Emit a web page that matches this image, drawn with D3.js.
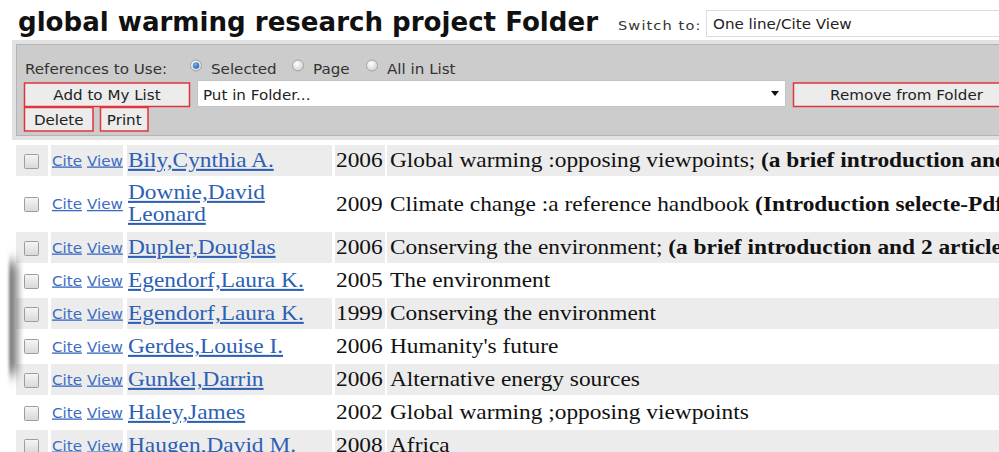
<!DOCTYPE html>
<html>
<head>
<meta charset="utf-8">
<script src="https://cdn.jsdelivr.net/npm/d3@7"></script>
<style>
  html, body { margin: 0; padding: 0; background: #fff; }
  svg { display: block; }
  .sans { font-family: "DejaVu Sans", Verdana, sans-serif; }
  .serif { font-family: "Liberation Serif", "Times New Roman", serif; }
</style>
</head>
<body>
<svg id="page" width="999" height="452"></svg>
<script>
// folder contents
const folderName = 'global warming research project Folder';
const viewChoice = 'One line/Cite View';
const scopeChoices = ['Selected', 'Page', 'All in List'];
const authors = [
  ['Bily,Cynthia A.'],
  ['Downie,David', 'Leonard'],
  ['Dupler,Douglas'],
  ['Egendorf,Laura K.'],
  ['Egendorf,Laura K.'],
  ['Gerdes,Louise I.'],
  ['Gunkel,Darrin'],
  ['Haley,James'],
  ['Haugen,David M.']
];
const years = [2006, 2009, 2006, 2005, 1999, 2006, 2006, 2002, 2008];
const titles = [
  'Global warming :opposing viewpoints;',
  'Climate change :a reference handbook',
  'Conserving the environment;',
  'The environment',
  'Conserving the environment',
  "Humanity's future",
  'Alternative energy sources',
  'Global warming ;opposing viewpoints',
  'Africa'
];
const notes = [
  '(a brief introduction and 2 articles)',
  '(Introduction selecte-Pdf)',
  '(a brief introduction and 2 articles)',
  '', '', '', '', '', ''
];

const SX = 1.12; // text in the shot is a little wider than tall
const SXS = 1.14; // same for the serif rows
const svg = d3.select('#page');
const defs = svg.append('defs');

// gradients for the little form controls
const cb = defs.append('linearGradient').attr('id', 'cbGrad').attr('x1', 0).attr('y1', 0).attr('x2', 0).attr('y2', 1);
cb.append('stop').attr('offset', 0).attr('stop-color', '#f6f6f6');
cb.append('stop').attr('offset', 1).attr('stop-color', '#d8d8d8');
const rg = defs.append('radialGradient').attr('id', 'radioGrad').attr('cx', 0.4).attr('cy', 0.35).attr('r', 0.7);
rg.append('stop').attr('offset', 0).attr('stop-color', '#ffffff');
rg.append('stop').attr('offset', 1).attr('stop-color', '#cfcfcf');
const rs = defs.append('radialGradient').attr('id', 'radioSel').attr('cx', 0.4).attr('cy', 0.35).attr('r', 0.7);
rs.append('stop').attr('offset', 0).attr('stop-color', '#7fb2ee');
rs.append('stop').attr('offset', 1).attr('stop-color', '#1f5fb5');
const sh = defs.append('linearGradient').attr('id', 'shadowGrad');
sh.append('stop').attr('offset', 0).attr('stop-color', '#555').attr('stop-opacity', 0.85);
sh.append('stop').attr('offset', 0.4).attr('stop-color', '#555').attr('stop-opacity', 0.6);
sh.append('stop').attr('offset', 1).attr('stop-color', '#555').attr('stop-opacity', 0);
defs.append('filter').attr('id', 'soft').attr('x', -1).attr('y', -0.3).attr('width', 3).attr('height', 1.6)
  .append('feGaussianBlur').attr('stdDeviation', '1.5 7');

function label(g, x, y, str, cls, size, sx) {
  return g.append('text')
    .attr('class', cls)
    .attr('transform', `translate(${x},${y}) scale(${sx || SX},1)`)
    .attr('font-size', size)
    .text(str);
}

function button(g, x, y, w, h, str) {
  g.append('rect').attr('x', x).attr('y', y).attr('width', w).attr('height', h)
    .attr('fill', '#ececec').attr('stroke', '#e0353b').attr('stroke-width', 1.5);
  label(g, x + w / 2, y + 17, str, 'sans', 13.5).attr('text-anchor', 'middle').attr('fill', '#222');
}

// heading
svg.append('text').attr('class', 'sans').attr('x', 18).attr('y', 31)
  .attr('font-size', 26).attr('font-weight', 'bold').attr('fill', '#111')
  .attr('textLength', 580).attr('lengthAdjust', 'spacingAndGlyphs')
  .text(folderName);
label(svg, 618, 30, 'Switch to:', 'sans', 13).attr('letter-spacing', 1).attr('fill', '#333');
svg.append('rect').attr('x', 706.5).attr('y', 10.5).attr('width', 300).attr('height', 26)
  .attr('fill', '#fff').attr('stroke', '#dcdcdc');
label(svg, 713, 29, viewChoice, 'sans', 13.5).attr('fill', '#222');

// toolbar panel
const bar = svg.append('g');
bar.append('rect').attr('x', 12).attr('y', 40).attr('width', 995).attr('height', 100).attr('fill', '#e2e2e2');
bar.append('rect').attr('x', 16.5).attr('y', 44.5).attr('width', 990).attr('height', 91)
  .attr('fill', '#cccccc').attr('stroke', '#b4b4b4');
label(bar, 25, 74, 'References to Use:', 'sans', 13.5).attr('fill', '#333');

const radioCx = [196, 298, 372];
scopeChoices.forEach((c, i) => {
  const cx = radioCx[i];
  bar.append('circle').attr('cx', cx).attr('cy', 65.5).attr('r', 5.5)
    .attr('fill', 'url(#radioGrad)').attr('stroke', '#a3a3a3');
  if (i === 0) {
    bar.append('circle').attr('cx', cx).attr('cy', 65.5).attr('r', 3.2).attr('fill', 'url(#radioSel)');
  }
  label(bar, cx + 15, 74, c, 'sans', 13.5).attr('fill', '#333');
});

button(bar, 24.5, 83, 165, 23.5, 'Add to My List');
bar.append('rect').attr('x', 197.5).attr('y', 80.5).attr('width', 588).attr('height', 26)
  .attr('fill', '#fff').attr('stroke', '#c4c4c4');
label(bar, 203, 100, 'Put in Folder...', 'sans', 13.5).attr('fill', '#222');
bar.append('path').attr('d', 'M771,91 L779,91 L775,96 Z').attr('fill', '#111');
button(bar, 793.5, 83, 226, 23.5, 'Remove from Folder');
button(bar, 24.5, 107.5, 68.5, 23.5, 'Delete');
button(bar, 100.5, 107.5, 47.5, 23.5, 'Print');

// results table
const lineUnits = authors.map(a => 1 + (a.length - 1) * 21 / 33);
const starts = [0].concat(Array.from(d3.cumsum(lineUnits)));
const y = d3.scaleLinear().domain([0, 1]).range([145, 178]);

const rows = svg.append('g').selectAll('g')
  .data(authors.map((a, i) => ({ names: a, year: years[i], title: titles[i], note: notes[i], i })))
  .join('g')
  .attr('transform', d => `translate(0,${y(starts[d.i])})`);

const cells = [[16, 32], [51, 72], [127, 205], [335, 50], [387, 640]];
rows.each(function (d) {
  const g = d3.select(this);
  const h = y(starts[d.i + 1]) - y(starts[d.i]) - 2;
  const mid = h / 2;
  if (d.i % 2 === 0) {
    cells.forEach(c => g.append('rect').attr('x', c[0]).attr('y', 0)
      .attr('width', c[1]).attr('height', h).attr('fill', '#ececec'));
  }
  g.append('rect').attr('x', 24.5).attr('y', Math.round(mid) - 7 + 0.5).attr('width', 14).attr('height', 14)
    .attr('rx', 1).attr('fill', 'url(#cbGrad)').attr('stroke', '#9d9d9d');
  label(g, 52, mid + 5, 'Cite', 'sans', 13.5).attr('fill', '#3b6cc2').style('text-decoration', 'underline');
  label(g, 87, mid + 5, 'View', 'sans', 13.5).attr('fill', '#3b6cc2').style('text-decoration', 'underline');
  d.names.forEach((n, k) => {
    const by = d.names.length === 1 ? 22 : 21 + k * 22;
    label(g, 128, by, n, 'serif', 20.5, SXS).attr('fill', '#2d5fb4').style('text-decoration', 'underline');
  });
  label(g, 336, mid + 6.5, d.year, 'serif', 20.5, SXS).attr('fill', '#111');
  const t = label(g, 390, mid + 6.5, '', 'serif', 20.5, SXS).attr('fill', '#111');
  t.append('tspan').text(d.title);
  if (d.note) t.append('tspan').attr('font-weight', 'bold').text(' ' + d.note);
});

// window shadow along the left edge of the shot
svg.append('rect').attr('x', 9).attr('y', 262).attr('width', 14).attr('height', 112)
  .attr('fill', 'url(#shadowGrad)').attr('filter', 'url(#soft)');
</script>
</body>
</html>
